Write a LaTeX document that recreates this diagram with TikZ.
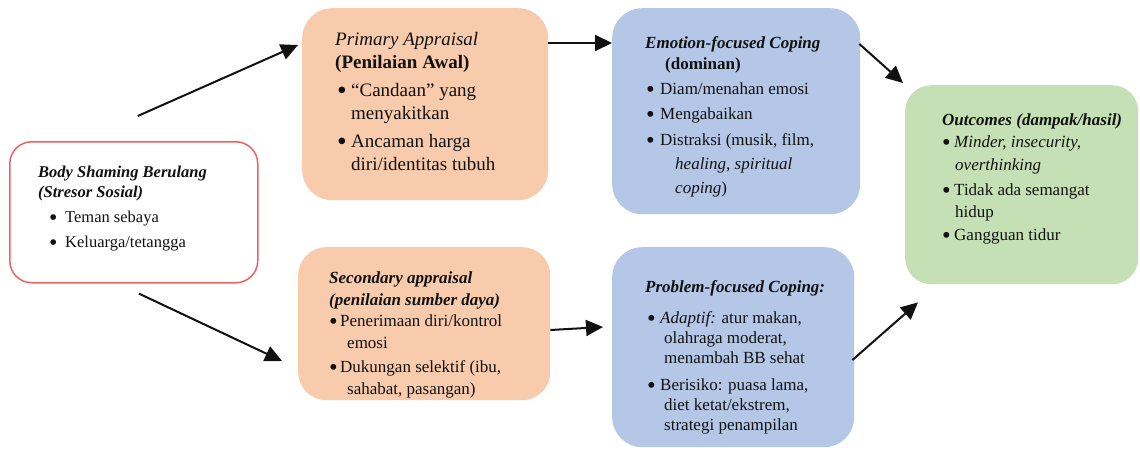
\documentclass[tikz,border=0pt]{standalone}
\usepackage{fontspec}
\setmainfont{Liberation Serif}
\usetikzlibrary{arrows.meta,calc}
\definecolor{peach}{HTML}{F8CBAD}
\definecolor{lblue}{HTML}{B4C7E7}
\definecolor{lgreen}{HTML}{C5E0B4}
\definecolor{redline}{HTML}{EE6262}
\definecolor{ink}{HTML}{111111}
\newcommand{\mybul}[1]{\makebox[#1][l]{\raisebox{-0.16em}{\scalebox{1.45}{\textbullet}}}}
\newcommand{\hd}[1]{\textbf{\textit{#1}}}
\begin{document}
\begin{tikzpicture}[x=1pt,y=-1pt,
  card/.style={rectangle, rounded corners=#1, anchor=north west, inner sep=0pt, draw=none},
  txt/.style={anchor=north west, inner sep=0pt, align=left, text=ink},
  conn/.style={draw=ink, line width=2pt, -{Triangle[length=17pt,width=16pt]}}]
\useasboundingbox (0,0) rectangle (1140,450);

% boxes
\node[card=22pt, draw=redline, line width=1.5pt, fill=white, minimum width=248pt, minimum height=141pt] (body) at (9,141) {};
\node[card=30pt, fill=peach, minimum width=246pt, minimum height=192pt] (primary) at (302,8) {};
\node[card=28pt, fill=peach, minimum width=252pt, minimum height=153pt] (secondary) at (298,247) {};
\node[card=30pt, fill=lblue, minimum width=248pt, minimum height=206pt] (emotion) at (612,8) {};
\node[card=30pt, fill=lblue, minimum width=242pt, minimum height=200pt] (problem) at (612,247) {};
\node[card=26pt, fill=lgreen, minimum width=233pt, minimum height=199pt] (outcomes) at (905,85) {};

% texts
\node[txt, font=\fontsize{16.5}{20}\selectfont] (bodyt) at (38,166)
 {\hd{Body Shaming Berulang}\\
  \hd{(Stresor Sosial)}\\[5pt]
  \hspace*{11pt}\mybul{16pt}Teman sebaya\\[5pt]
  \hspace*{11pt}\mybul{16pt}Keluarga/tetangga};

\node[txt, font=\fontsize{19}{23}\selectfont] (primaryt) at (335,32)
 {\textit{Primary Appraisal}\\
  \textbf{(Penilaian Awal)}\\[5pt]
  \hspace*{2pt}\mybul{14pt}“Candaan” yang\\
  \hspace*{16pt}menyakitkan\\[5pt]
  \hspace*{2pt}\mybul{14pt}Ancaman harga\\
  \hspace*{16pt}diri/identitas tubuh};

\node[txt, font=\fontsize{17}{21.5}\selectfont] (secondaryt) at (329,271.5)
 {\hd{Secondary appraisal}\\
  \hd{(penilaian sumber daya)}\\
  \mybul{11pt}Penerimaan diri/kontrol\\
  \hspace*{18pt}emosi\\[3pt]
  \mybul{11pt}Dukungan selektif (ibu,\\
  \hspace*{18pt}sahabat, pasangan)};

\node[txt, font=\fontsize{17}{24}\selectfont] (emotiont) at (645,36.5)
 {\hd{Emotion-focused Coping}\\[-3pt]
  \hspace*{20pt}\textbf{(dominan)}\\[1pt]
  \hspace*{1pt}\mybul{14pt}Diam/menahan emosi\\[1pt]
  \hspace*{1pt}\mybul{14pt}Mengabaikan\\[2pt]
  \hspace*{1pt}\mybul{14pt}Distraksi (musik, film,\\
  \hspace*{30pt}\textit{healing, spiritual}\\
  \hspace*{30pt}\textit{coping})};

\node[txt, font=\fontsize{17}{20}\selectfont] (problemt) at (645,280.5)
 {\hd{Problem-focused Coping:}\\[11pt]
  \hspace*{2pt}\mybul{13pt}\textit{Adaptif:} atur makan,\\
  \hspace*{19pt}olahraga moderat,\\
  \hspace*{19pt}menambah BB sehat\\[7pt]
  \hspace*{2pt}\mybul{13pt}Berisiko: puasa lama,\\
  \hspace*{19pt}diet ketat/ekstrem,\\
  \hspace*{19pt}strategi penampilan};

\node[txt, font=\fontsize{17}{22}\selectfont] (outcomest) at (942,113.5)
 {\hd{Outcomes (dampak/hasil)}\\
  \mybul{12pt}\textit{Minder, insecurity,}\\[1pt]
  \hspace*{13pt}\textit{overthinking}\\[3pt]
  \mybul{12pt}Tidak ada semangat\\
  \hspace*{13pt}hidup\\[1pt]
  \mybul{12pt}Gangguan tidur};

% connectors
\coordinate (s1) at ($(body.north)+(4,-25)$);
\coordinate (s2) at ($(body.south)+(5,10)$);
\draw[conn] (s1) -- ($(primary.north west)+(-4,37)$);
\draw[conn] (s2) -- ($(secondary.north west)+(-16,114)$);
\draw[conn] ($(primary.north east)+(0,35)$) -- ($(emotion.north west)+(0,35)$);
\draw[conn] ($(secondary.north east)+(0,83)$) -- ($(problem.north west)+(-9,80)$);
\draw[conn] ($(emotion.north east)+(-1,36)$) -- ($(outcomes.north west)+(-2,-2)$);
\draw[conn] ($(problem.north east)+(-2,113)$) -- ($(outcomes.south west)+(13,18)$);
\end{tikzpicture}
\end{document}
